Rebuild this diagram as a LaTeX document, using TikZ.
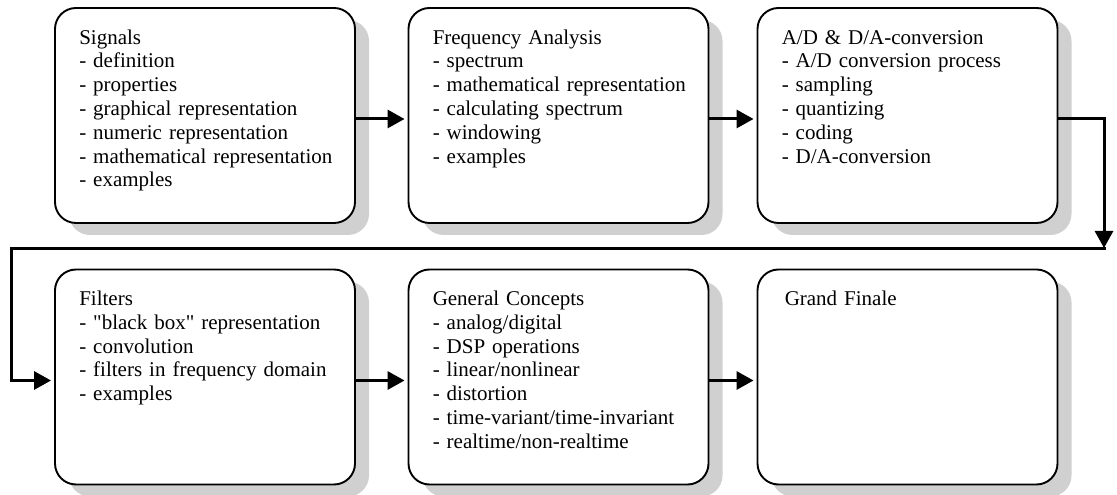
\documentclass[tikz,border=0pt]{standalone}
\usepackage{fontspec}
\setmainfont{Liberation Serif}
\usetikzlibrary{arrows.meta,shadows}
\definecolor{shadowgray}{RGB}{208,208,208}
\begin{document}
\begin{tikzpicture}[x=1pt,y=1pt,
  topic/.style={draw=black, line width=1.9pt, fill=white, rounded corners=21pt,
    minimum width=300pt, minimum height=215pt, inner sep=0pt,
    drop shadow={shadow xshift=14pt, shadow yshift=-12pt, fill=shadowgray, opacity=1}},
  topictext/.style={anchor=base west, text width=285pt, align=left, inner sep=0pt,
    font=\fontsize{21}{23.8}\selectfont},
  flow/.style={line width=3pt, -{Triangle[length=17pt,width=18pt]}, shorten >=3pt},
]
\useasboundingbox (0,0) rectangle (1117,495);
\fill[white] (0,0) rectangle (1117,495);

% upper row
\node[topic] (sig) at (205,379.5) {};
\node[topic] (freq) at (558.5,379.5) {};
\node[topic] (adda) at (907.5,379.5) {};
% lower row
\node[topic] (filt) at (205,118) {};
\node[topic] (gen) at (558.5,118) {};
\node[topic] (fin) at (907.5,118) {};

\node[topictext] (sigt) at ([xshift=25pt,yshift=-37pt]sig.north west)
  {Signals\\- definition\\- properties\\- graphical representation\\- numeric representation\\- mathematical representation\\- examples};
\node[topictext] (freqt) at ([xshift=25pt,yshift=-37pt]freq.north west)
  {Frequency Analysis\\- spectrum\\- mathematical representation\\- calculating spectrum\\- windowing\\- examples};
\node[topictext] (addat) at ([xshift=25pt,yshift=-37pt]adda.north west)
  {A/D \& D/A-conversion\\- A/D conversion process\\- sampling\\- quantizing\\- coding\\- D/A-conversion};
\node[topictext] (filtt) at ([xshift=25pt,yshift=-37pt]filt.north west)
  {Filters\\- \textquotedbl black box\textquotedbl{} representation\\- convolution\\- filters in frequency domain\\- examples};
\node[topictext] (gent) at ([xshift=25pt,yshift=-37pt]gen.north west)
  {General Concepts\\- analog/digital\\- DSP operations\\- linear/nonlinear\\- distortion\\- time-variant/time-invariant\\- realtime/non-realtime};
\node[topictext] (fint) at ([xshift=28pt,yshift=-37pt]fin.north west)
  {Grand Finale};

% connectors
\coordinate (turnR) at (1104,246);
\coordinate (turnL) at (11,246);

\draw[flow] ([yshift=-3.5pt]sig.east) -- ([yshift=-3.5pt]freq.west);
\draw[flow] ([yshift=-3.5pt]freq.east) -- ([yshift=-3.5pt]adda.west);
\draw[line width=3pt, -{Triangle[length=17pt,width=18pt]}] ([yshift=-3.5pt]adda.east) -| ([yshift=1pt]turnR);
\draw[flow] ([xshift=1.5pt]turnR) -- (turnL) |- ([yshift=-3.5pt]filt.west);
\draw[flow] ([yshift=-3.5pt]filt.east) -- ([yshift=-3.5pt]gen.west);
\draw[flow] ([yshift=-3.5pt]gen.east) -- ([yshift=-3.5pt]fin.west);
\end{tikzpicture}
\end{document}
